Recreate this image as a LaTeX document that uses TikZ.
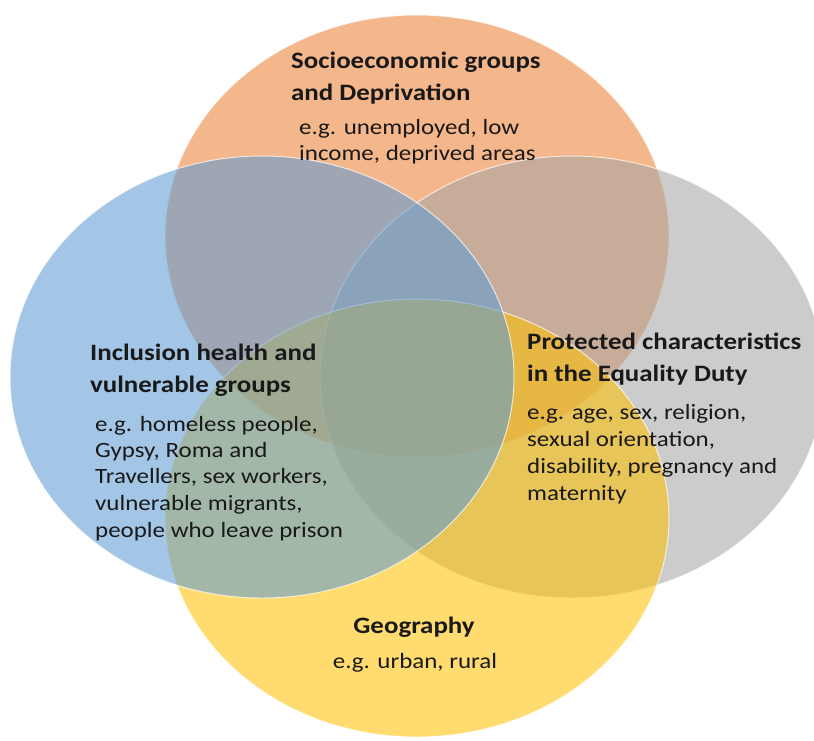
\documentclass[tikz,border=0pt]{standalone}
\usepackage{fontspec}
\setmainfont{Carlito}[FakeStretch=1.145]
\definecolor{vorange}{RGB}{237,125,49}
\definecolor{vgray}{RGB}{165,165,165}
\definecolor{vyellow}{RGB}{255,192,0}
\definecolor{vblue}{RGB}{91,155,213}
\definecolor{vtext}{RGB}{25,25,25}
\begin{document}
\begin{tikzpicture}[x=1pt,y=-1pt,
  setfill/.style={fill opacity=0.56, draw=white, draw opacity=0.7, line width=1pt},
  ttl/.style={inner sep=0pt, anchor=base west, font=\fontsize{23.5}{29}\selectfont\bfseries, text=vtext},
  bdy/.style={inner sep=0pt, anchor=base west, font=\fontsize{21.8}{26.6}\selectfont, text=vtext},
  ttlc/.style={ttl, anchor=base},
  bdyc/.style={bdy, anchor=base}]
\useasboundingbox (0,0) rectangle (814,740);
\clip (0,0) rectangle (814,740);
\fill[white] (0,0) rectangle (814,740);
% sets
\path[setfill, fill=vorange] (417,236) ellipse [x radius=252, y radius=221];
\path[setfill, fill=vgray]   (572,377) ellipse [x radius=252, y radius=221];
\path[setfill, fill=vyellow] (417,518) ellipse [x radius=252, y radius=219];
\path[setfill, fill=vblue]   (262,377) ellipse [x radius=252, y radius=221];
% top
\node[ttl] (s1) at (291,68) {Socioeconomic groups};
\node[ttl] (s2) at (291,100) {and Deprivation};
\node[bdy] (s3) at (299,134) {e.g. unemployed, low};
\node[bdy] (s4) at (299,160) {income, deprived areas};
% left
\node[ttl] (i1) at (90,360) {Inclusion health and};
\node[ttl] (i2) at (90,392) {vulnerable groups};
\node[bdy] (i3) at (95,431) {e.g. homeless people,};
\node[bdy] (i4) at (95,457) {Gypsy, Roma and};
\node[bdy] (i5) at (95,483) {Travellers, sex workers,};
\node[bdy] (i6) at (95,510) {vulnerable migrants,};
\node[bdy] (i7) at (95,537) {people who leave prison};
% right
\node[ttl] (p1) at (527,349) {Protected characteristics};
\node[ttl] (p2) at (527,381) {in the Equality Duty};
\node[bdy] (p3) at (527,419) {e.g. age, sex, religion,};
\node[bdy] (p4) at (527,446) {sexual orientation,};
\node[bdy] (p5) at (527,473) {disability, pregnancy and};
\node[bdy] (p6) at (527,500) {maternity};
% bottom
\node[ttlc] (g1) at (414,633) {Geography};
\node[bdyc] (g2) at (415,668) {e.g. urban, rural};
\end{tikzpicture}
\end{document}
